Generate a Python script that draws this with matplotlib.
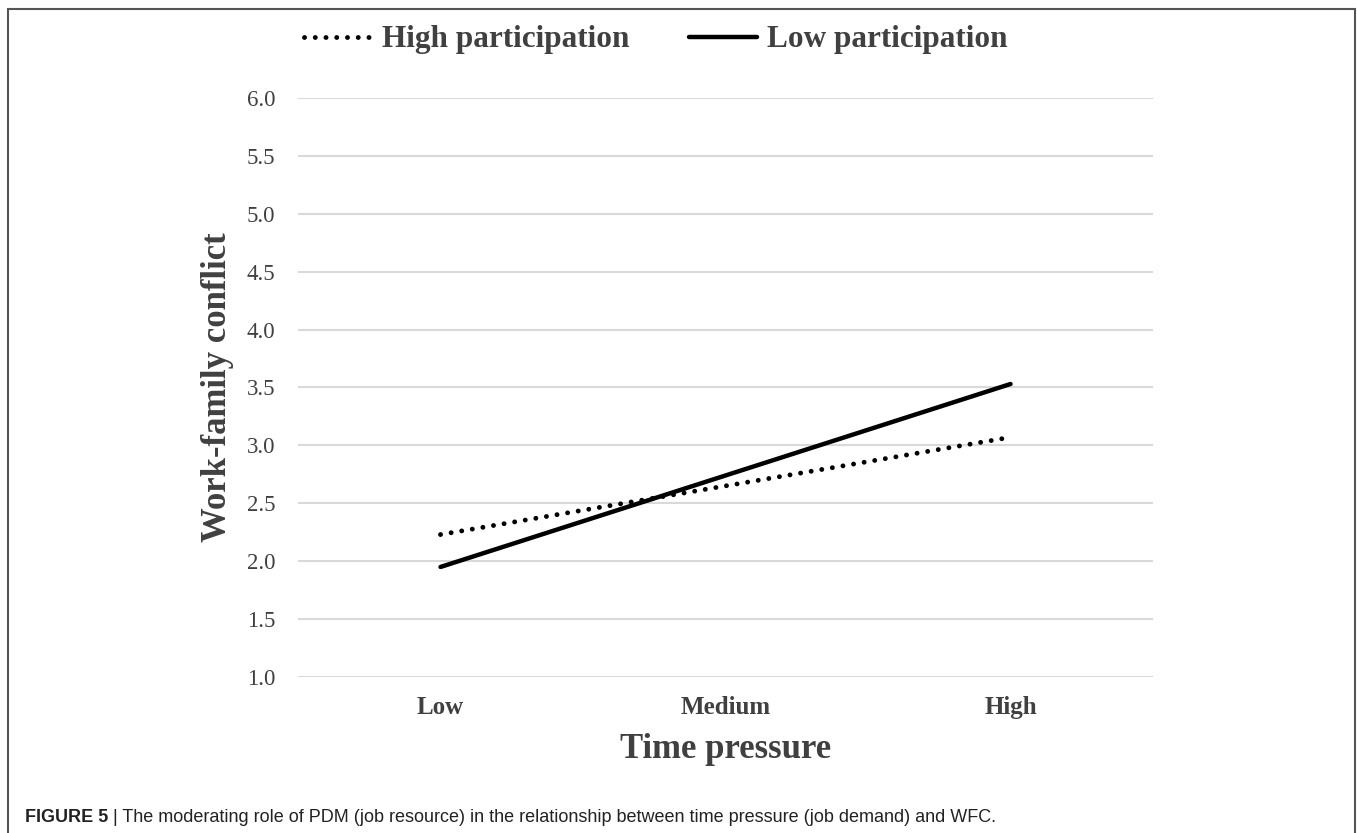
import matplotlib.pyplot as plt
from matplotlib.patches import Rectangle

categories = ['Low', 'Medium', 'High']
high_participation = [2.23, 2.65, 3.07]
low_participation = [1.95, 2.74, 3.53]
y_ticks = [1.0, 1.5, 2.0, 2.5, 3.0, 3.5, 4.0, 4.5, 5.0, 5.5, 6.0]

text_color = '#404040'
serif = 'Liberation Serif'

fig = plt.figure(figsize=(13.57, 8.33), dpi=100)
ax = fig.add_axes([0.2196, 0.1873, 0.6301, 0.6951])

x = [0.5, 1.5, 2.5]
ax.plot(x, high_participation, color='black', lw=3.5,
        linestyle=(0, (0.01, 2.2)), dash_capstyle='round',
        label='High participation')
ax.plot(x, low_participation, color='black', lw=3.2,
        solid_capstyle='round', label='Low participation')

ax.set_xlim(0, 3)
ax.set_ylim(1, 6)
ax.set_yticks(y_ticks)
ax.set_yticklabels(['%.1f' % v for v in y_ticks], fontfamily=serif,
                   fontsize=16.5, color=text_color)
ax.set_xticks(x)
ax.set_xticklabels(categories, fontfamily=serif, fontweight='bold',
                   fontsize=18, color=text_color)
ax.tick_params(axis='both', length=0)
ax.tick_params(axis='y', pad=16.5)
ax.tick_params(axis='x', pad=14)
ax.grid(axis='y', color='#d9d9d9', lw=1.5)
ax.set_axisbelow(True)
for s in ax.spines.values():
    s.set_visible(False)

ax.set_xlabel('Time pressure', fontfamily=serif, fontweight='bold',
              fontsize=25, color=text_color, labelpad=10)
ax.set_ylabel('Work-family conflict', fontfamily=serif, fontweight='bold',
              fontsize=25, color=text_color, labelpad=9)

fig.legend(loc='center', bbox_to_anchor=(0.483, 0.952), ncol=2,
           frameon=False, handlelength=2.2, handletextpad=0.3,
           columnspacing=1.9,
           prop={'family': serif, 'weight': 'bold', 'size': 22.5},
           labelcolor=text_color)

# outer frame
fig.patches.append(Rectangle((0.0059, -0.02), 0.9926, 1.009,
                             transform=fig.transFigure, fill=False,
                             edgecolor='#555555', lw=1.5))

cap = fig.text(0.0184, 0.0192, 'FIGURE 5 ', fontfamily='Liberation Sans',
               fontweight='bold', fontsize=13, color='#222222', va='center')
ax.annotate('| The moderating role of PDM (job resource) in the relationship '
            'between time pressure (job demand) and WFC.',
            xy=(1, 0.5), xycoords=cap, va='center', ha='left',
            fontfamily='Liberation Sans', fontsize=13, color='#222222',
            annotation_clip=False)

fig.savefig('out.png', dpi=100)
